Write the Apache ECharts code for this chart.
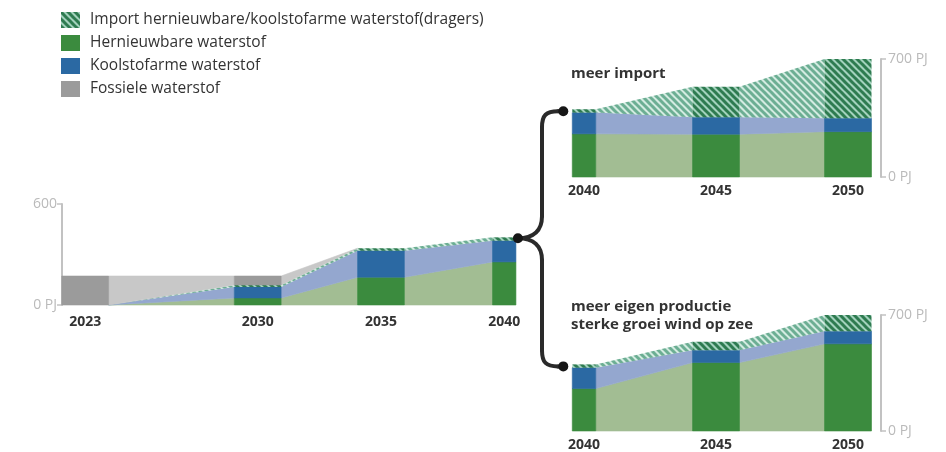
<!DOCTYPE html>
<html>
<head>
<meta charset="utf-8">
<script src="https://cdn.jsdelivr.net/npm/echarts@6/dist/echarts.min.js"></script>
<style>
  html, body { margin: 0; padding: 0; background: #fff; }
  #chart { width: 946px; height: 452px; }
</style>
</head>
<body>
<div id="chart"></div>
<script>
// Waterstofvraag in PJ: stapel per jaar, onder naar boven
// hernieuwbaar, koolstofarm, import, fossiel.

const SERIES_NAMES = [
  'Import hernieuwbare/koolstofarme waterstof(dragers)',
  'Hernieuwbare waterstof',
  'Koolstofarme waterstof',
  'Fossiele waterstof'
];

// Ontwikkeling tot 2040
const pathYears = [2023, 2030, 2035, 2040];
const pathHernieuwbaar = [0, 42, 165, 256];
const pathKoolstofarm = [0, 65, 158, 126];
const pathImport = [0, 12, 14, 20];
const pathFossiel = [172, 53, 0, 0];

// Scenario "meer import"
const importYears = [2040, 2045, 2050];
const importHernieuwbaar = [256, 254, 269];
const importKoolstofarm = [126, 100, 79];
const importImport = [20, 182, 352];

// Scenario "meer eigen productie"
const eigenYears = [2040, 2045, 2050];
const eigenHernieuwbaar = [256, 413, 526];
const eigenKoolstofarm = [126, 75, 76];
const eigenImport = [20, 50, 98];

const pathTicks = [0, 600];
const scenarioTicks = [0, 700];
const SPLIT_YEAR = 2040;

const FONT = "'Open Sans', 'DejaVu Sans', sans-serif";

function stripes(bg, fg) {
  const s = 7;
  const c = document.createElement('canvas');
  c.width = s; c.height = s;
  const g = c.getContext('2d');
  g.fillStyle = bg;
  g.fillRect(0, 0, s, s);
  g.strokeStyle = fg;
  g.lineWidth = 3;
  [[-s, 0], [0, 0], [s, 0]].forEach(([x0, y0]) => {
    g.beginPath();
    g.moveTo(x0 - 1, y0 - 1);
    g.lineTo(x0 + s + 1, y0 + s + 1);
    g.stroke();
  });
  return { image: c, repeat: 'repeat' };
}

const importBar = stripes('#a3d2bd', '#2e7b50');
const importBand = stripes('#d3ebe1', '#6cae93');

// kleuren per laag: balk en tussenvlak
const LAYER_STYLE = {
  hernieuwbaar: { name: SERIES_NAMES[1], bar: '#3b8b3e', band: '#a2bd93' },
  koolstofarm: { name: SERIES_NAMES[2], bar: '#2b69a3', band: '#94a7cf' },
  import: { name: SERIES_NAMES[0], bar: importBar, band: importBand, pattern: true },
  fossiel: { name: SERIES_NAMES[3], bar: '#9b9b9b', band: '#c8c8c8' }
};

function stackPanel(years, layers) {
  const base = [], top = [];
  let run = years.map(() => 0);
  layers.forEach((vals) => {
    base.push(run.slice());
    run = run.map((r, i) => r + vals[i]);
    top.push(run.slice());
  });
  return { years, base, top };
}

const panels = [
  {
    grid: 0, barW: 1.9,
    keys: ['hernieuwbaar', 'koolstofarm', 'import', 'fossiel'],
    stack: stackPanel(pathYears, [pathHernieuwbaar, pathKoolstofarm, pathImport, pathFossiel])
  },
  {
    grid: 1, barW: 1.78,
    keys: ['hernieuwbaar', 'koolstofarm', 'import'],
    stack: stackPanel(importYears, [importHernieuwbaar, importKoolstofarm, importImport])
  },
  {
    grid: 2, barW: 1.78,
    keys: ['hernieuwbaar', 'koolstofarm', 'import'],
    stack: stackPanel(eigenYears, [eigenHernieuwbaar, eigenKoolstofarm, eigenImport])
  }
];

function halfWidth(panel, yr) {
  return yr === SPLIT_YEAR ? panel.barW / 4 : panel.barW / 2;
}

function makeRender(panel, li, st) {
  const s = panel.stack;
  return function (params, api) {
    const i = params.dataIndex;
    const yr = s.years[i];
    const hw = halfWidth(panel, yr);
    const b0 = s.base[li][i], t0 = s.top[li][i];
    const children = [];
    if (i < s.years.length - 1) {
      const yr1 = s.years[i + 1];
      const hw1 = halfWidth(panel, yr1);
      const b1 = s.base[li][i + 1], t1 = s.top[li][i + 1];
      if (t0 > b0 || t1 > b1) {
        const pts = [
          api.coord([yr + hw, t0]),
          api.coord([yr1 - hw1, t1]),
          api.coord([yr1 - hw1, b1]),
          api.coord([yr + hw, b0])
        ];
        const style = { fill: st.band };
        if (!st.pattern) { style.stroke = st.band; style.lineWidth = 0.6; }
        children.push({ type: 'polygon', shape: { points: pts }, style });
      }
    }
    if (t0 > b0) {
      const p1 = api.coord([yr - hw, t0]);
      const p2 = api.coord([yr + hw, b0]);
      const style = { fill: st.bar };
      if (!st.pattern) { style.stroke = st.bar; style.lineWidth = 0.6; }
      children.push({
        type: 'rect',
        shape: { x: p1[0], y: p1[1], width: p2[0] - p1[0], height: p2[1] - p1[1] },
        style
      });
    }
    return { type: 'group', children };
  };
}

const series = [];
panels.forEach((panel) => {
  panel.keys.forEach((key, li) => {
    const st = LAYER_STYLE[key];
    const s = panel.stack;
    series.push({
      type: 'custom',
      name: st.name,
      xAxisIndex: panel.grid,
      yAxisIndex: panel.grid,
      itemStyle: { color: st.bar },
      renderItem: makeRender(panel, li, st),
      data: s.years.map((y, i) => [y, s.base[li][i], s.top[li][i]]),
      encode: { x: 0, y: [1, 2] },
      silent: true
    });
  });
});

const yearLabel = {
  color: '#333', fontSize: 14, fontWeight: 'bold', fontFamily: FONT, margin: 10
};
const valueAxisBase = {
  type: 'value',
  min: 0,
  splitLine: { show: false },
  axisLine: { show: true, lineStyle: { color: '#c2c2c2', width: 2 } },
  axisTick: { show: true, length: 5, lineStyle: { color: '#c2c2c2', width: 1.5 } },
  axisLabel: { color: '#bababa', fontSize: 14, fontFamily: FONT, margin: 5 }
};

const option = {
  backgroundColor: '#fff',
  animation: false,
  legend: {
    orient: 'vertical',
    left: 61, top: 12, padding: 0,
    itemWidth: 19, itemHeight: 16, itemGap: 7,
    icon: 'rect',
    data: SERIES_NAMES,
    textStyle: { color: '#333', fontSize: 15.5, lineHeight: 16, fontFamily: FONT, padding: [0, 0, 0, 5] },
    selectedMode: false
  },
  title: [
    { text: 'meer import', left: 571, top: 65, padding: 0,
      textStyle: { color: '#333', fontSize: 15, lineHeight: 18, fontWeight: 'bold', fontFamily: FONT } },
    { text: 'meer eigen productie\nsterke groei wind op zee', left: 571, top: 298, padding: 0,
      textStyle: { color: '#333', fontSize: 15, fontWeight: 'bold', fontFamily: FONT, lineHeight: 18 } }
  ],
  grid: [
    { left: 62, top: 204, width: 458, height: 101 },
    { left: 560, top: 59, width: 321, height: 118 },
    { left: 560, top: 315, width: 321, height: 118 }
  ],
  xAxis: [
    { type: 'value', gridIndex: 0, min: 2022.06, max: 2040.64,
      axisLine: { show: false }, axisTick: { show: false }, splitLine: { show: false },
      axisLabel: Object.assign({ customValues: pathYears, formatter: (v) => String(v) }, yearLabel) },
    { type: 'value', gridIndex: 1, min: 2039.09, max: 2051.25,
      axisLine: { show: false }, axisTick: { show: false }, splitLine: { show: false },
      axisLabel: Object.assign({ customValues: importYears, formatter: (v) => String(v) }, yearLabel, { margin: 7 }) },
    { type: 'value', gridIndex: 2, min: 2039.09, max: 2051.25,
      axisLine: { show: false }, axisTick: { show: false }, splitLine: { show: false },
      axisLabel: Object.assign({ customValues: eigenYears, formatter: (v) => String(v) }, yearLabel, { margin: 7 }) }
  ],
  yAxis: [
    Object.assign({}, valueAxisBase, {
      gridIndex: 0, position: 'left', max: pathTicks[1], interval: pathTicks[1],
      axisLabel: Object.assign({}, valueAxisBase.axisLabel, {
        formatter: (v) => (v === 0 ? '0 PJ' : String(v)) })
    }),
    Object.assign({}, valueAxisBase, {
      gridIndex: 1, position: 'right', max: scenarioTicks[1], interval: scenarioTicks[1],
      axisLabel: Object.assign({}, valueAxisBase.axisLabel, { margin: 7, formatter: (v) => v + ' PJ' })
    }),
    Object.assign({}, valueAxisBase, {
      gridIndex: 2, position: 'right', max: scenarioTicks[1], interval: scenarioTicks[1],
      axisLabel: Object.assign({}, valueAxisBase.axisLabel, { margin: 7, formatter: (v) => v + ' PJ' })
    })
  ],
  series
};

const chart = echarts.init(document.getElementById('chart'), null, { renderer: 'canvas' });
chart.setOption(option);

// Accolade die 2040 splitst in de twee scenario's
function total(panel, idx) {
  const s = panel.stack;
  return s.top[s.top.length - 1][idx];
}
const pathEdge = chart.convertToPixel({ gridIndex: 0 },
  [SPLIT_YEAR + halfWidth(panels[0], SPLIT_YEAR), total(panels[0], pathYears.indexOf(SPLIT_YEAR))]);
const topEdge = chart.convertToPixel({ gridIndex: 1 },
  [SPLIT_YEAR - halfWidth(panels[1], SPLIT_YEAR), total(panels[1], importYears.indexOf(SPLIT_YEAR))]);
const botEdge = chart.convertToPixel({ gridIndex: 2 },
  [SPLIT_YEAR - halfWidth(panels[2], SPLIT_YEAR), total(panels[2], eigenYears.indexOf(SPLIT_YEAR))]);

const L = [pathEdge[0] + 2, pathEdge[1] + 1];
const T = [topEdge[0] - 9, topEdge[1] + 2];
const B = [botEdge[0] - 9, botEdge[1] + 2];
const V = 542, r = 16;
const braceStyle = { stroke: '#2a2a2a', lineWidth: 4, lineCap: 'round', fill: null };

function seg(x1, y1, x2, y2) {
  return { type: 'line', z: 100, shape: { x1, y1, x2, y2 }, style: braceStyle };
}
function curve(x1, y1, cpx1, cpy1, cpx2, cpy2, x2, y2) {
  return { type: 'bezierCurve', z: 100,
    shape: { x1, y1, cpx1, cpy1, cpx2, cpy2, x2, y2 }, style: braceStyle };
}

chart.setOption({
  graphic: [
    seg(T[0], T[1], V + r, T[1]),
    curve(V + r, T[1], V + 4, T[1], V, T[1] + 4, V, T[1] + r),
    seg(V, T[1] + r, V, L[1] - 22),
    curve(V, L[1] - 22, V, L[1] - 8, V - 8, L[1], L[0], L[1]),
    curve(L[0], L[1], V - 8, L[1], V, L[1] + 8, V, L[1] + 22),
    seg(V, L[1] + 22, V, B[1] - r),
    curve(V, B[1] - r, V, B[1] - 4, V + 4, B[1], V + r, B[1]),
    seg(V + r, B[1], B[0], B[1]),
    { type: 'circle', z: 101, shape: { cx: L[0], cy: L[1], r: 5 }, style: { fill: '#161616' } },
    { type: 'circle', z: 101, shape: { cx: T[0], cy: T[1], r: 5 }, style: { fill: '#161616' } },
    { type: 'circle', z: 101, shape: { cx: B[0], cy: B[1], r: 5 }, style: { fill: '#161616' } }
  ]
});
</script>
</body>
</html>
